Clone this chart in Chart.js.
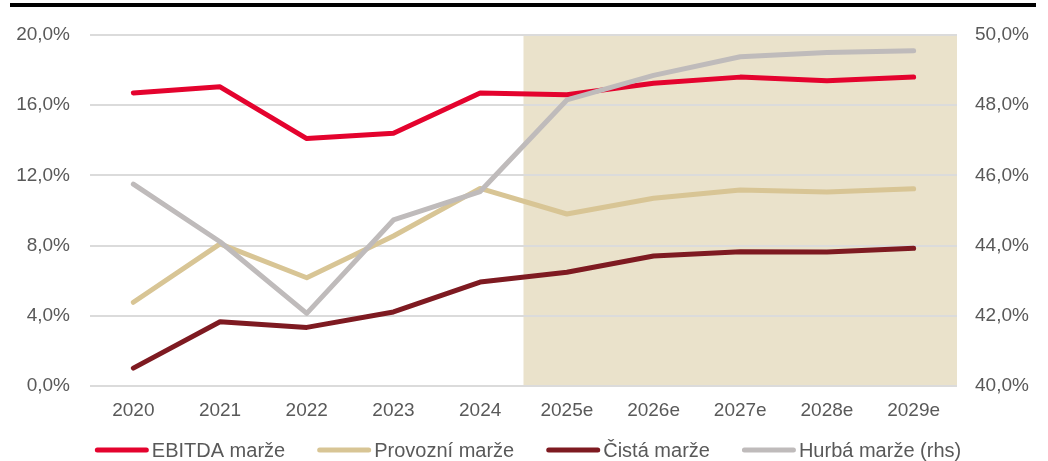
<!DOCTYPE html>
<html>
<head>
<meta charset="utf-8">
<script src="https://cdn.jsdelivr.net/npm/chart.js@4.4.1/dist/chart.umd.min.js"></script>
<style>
  html, body { margin: 0; padding: 0; background: #ffffff; }
  #wrap { width: 1048px; height: 461px; }
</style>
</head>
<body>
<div id="wrap"><canvas id="c" width="1048" height="461"></canvas></div>
<script>
const categories = ['2020', '2021', '2022', '2023', '2024', '2025e', '2026e', '2027e', '2028e', '2029e'];
const ebitdaMarze   = [16.7, 17.05, 14.1, 14.4, 16.7, 16.6, 17.25, 17.6, 17.4, 17.6];
const provozniMarze = [4.77, 8.1, 6.17, 8.55, 11.26, 9.8, 10.7, 11.17, 11.05, 11.24];
const cistaMarze    = [1.02, 3.66, 3.34, 4.22, 5.92, 6.48, 7.41, 7.65, 7.64, 7.85];
const hurbaMarze    = [45.75, 44.11, 42.07, 44.73, 45.54, 48.15, 48.85, 49.38, 49.5, 49.55];
const seriesNames   = ['EBITDA marže', 'Provozní marže', 'Čistá marže', 'Hurbá marže (rhs)'];
const seriesColors  = ['#E4032E', '#D8C595', '#7E1A21', '#BFBBBB'];
const firstForecastIndex = 5;

const FONT = '"Liberation Sans", Arial, Helvetica, sans-serif';
const TEXT_COLOR = '#595959';

function pctLabel(v) { return Number(v).toFixed(1).replace('.', ',') + '%'; }

const decorPlugin = {
  id: 'decor',
  beforeDraw(chart) {
    const ctx = chart.ctx;
    const area = chart.chartArea;
    const x = chart.scales.x;
    ctx.save();
    // top black rule
    ctx.fillStyle = '#000000';
    ctx.fillRect(10, 3, 1026, 4);
    // forecast shading
    const xs = (x.getPixelForValue(firstForecastIndex - 1) + x.getPixelForValue(firstForecastIndex)) / 2;
    ctx.fillStyle = '#EAE2CB';
    ctx.fillRect(xs, area.top, area.right - xs, area.bottom - area.top);
    ctx.restore();
  },
  afterDraw(chart) {
    const ctx = chart.ctx;
    ctx.save();
    ctx.font = '20px ' + FONT;
    const sample = 54, gap = 3, sep = 32;
    const widths = seriesNames.map(n => ctx.measureText(n).width);
    let total = 0;
    widths.forEach((w, i) => { total += sample + gap + w + (i < widths.length - 1 ? sep : 0); });
    let x = 528 - total / 2;
    const y = 450;
    ctx.textBaseline = 'middle';
    ctx.textAlign = 'left';
    seriesNames.forEach((n, i) => {
      ctx.strokeStyle = seriesColors[i];
      ctx.lineWidth = 5;
      ctx.lineCap = 'round';
      ctx.beginPath();
      ctx.moveTo(x + 2.5, y);
      ctx.lineTo(x + sample - 2.5, y);
      ctx.stroke();
      ctx.fillStyle = TEXT_COLOR;
      ctx.fillText(n, x + sample + gap, y + 1);
      x += sample + gap + widths[i] + sep;
    });
    ctx.restore();
  }
};

function lineDs(label, data, color, axis, order) {
  return {
    label, data, yAxisID: axis, order,
    borderColor: color, backgroundColor: color,
    borderWidth: 5, pointRadius: 0, pointHoverRadius: 0,
    tension: 0, fill: false,
    borderCapStyle: 'round', borderJoinStyle: 'round'
  };
}

new Chart(document.getElementById('c'), {
  type: 'line',
  data: {
    labels: categories,
    datasets: [
      lineDs(seriesNames[0], ebitdaMarze, seriesColors[0], 'y', 3),
      lineDs(seriesNames[1], provozniMarze, seriesColors[1], 'y', 2),
      lineDs(seriesNames[2], cistaMarze, seriesColors[2], 'y', 1),
      lineDs(seriesNames[3], hurbaMarze, seriesColors[3], 'y2', 0)
    ]
  },
  options: {
    responsive: false,
    animation: false,
    devicePixelRatio: 1,
    layout: { padding: { left: 0, right: 0, top: 35, bottom: 35 } },
    plugins: { legend: { display: false }, tooltip: { enabled: false } },
    scales: {
      x: {
        offset: true,
        grid: { display: false, drawTicks: false },
        border: { display: false },
        ticks: { color: TEXT_COLOR, font: { family: FONT, size: 19 }, padding: 13, maxRotation: 0, autoSkip: false },
        afterFit(s) { s.height = 40; }
      },
      y: {
        position: 'left',
        min: 0, max: 20,
        grid: { color: '#DBDBDB', lineWidth: 2, drawTicks: false },
        border: { display: false },
        ticks: { stepSize: 4, color: TEXT_COLOR, font: { family: FONT, size: 19 }, padding: 20, callback: v => pctLabel(v) },
        afterFit(s) { s.width = 90; }
      },
      y2: {
        position: 'right',
        min: 40, max: 50,
        grid: { drawOnChartArea: false, drawTicks: false },
        border: { display: false },
        ticks: { stepSize: 2, color: TEXT_COLOR, font: { family: FONT, size: 19 }, padding: 18, callback: v => pctLabel(v) },
        afterFit(s) { s.width = 91; }
      }
    }
  },
  plugins: [decorPlugin]
});
</script>
</body>
</html>
